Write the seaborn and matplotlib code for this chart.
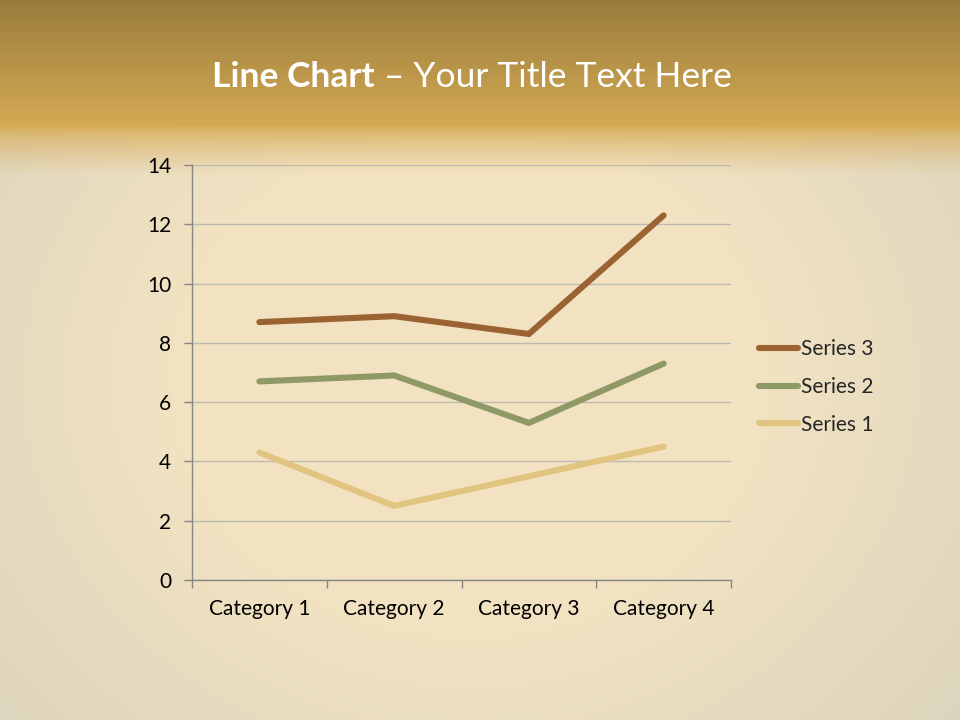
import numpy as np
import pandas as pd
import matplotlib
matplotlib.use("Agg")
import matplotlib.pyplot as plt
import seaborn as sns

# data (stacked line chart: each series drawn on top of the previous)
categories = ["Category 1", "Category 2", "Category 3", "Category 4"]
series_names = ["Series 1", "Series 2", "Series 3"]
series_1 = [4.3, 2.5, 3.5, 4.5]
series_2 = [2.4, 4.4, 1.8, 2.8]
series_3 = [2.0, 2.0, 3.0, 5.0]
y_ticks = [0, 2, 4, 6, 8, 10, 12, 14]
colors = {"Series 1": "#E1C47F", "Series 2": "#8F9966", "Series 3": "#9B6232"}

stacked = np.cumsum([series_1, series_2, series_3], axis=0)
df = pd.DataFrame({
    "cat": np.tile(np.arange(len(categories)), len(series_names)),
    "value": stacked.ravel(),
    "series": np.repeat(series_names, len(categories)),
})

sns.set_theme(style="white")
plt.rcParams["font.family"] = ["Lato", "DejaVu Sans"]

fig = plt.figure(figsize=(9.6, 7.2), dpi=100)

# -------- background: gold band on top, parchment below --------
H, W = 720, 960
yy, xx = np.mgrid[0:H, 0:W].astype(float)
dark = np.array([0.60, 0.49, 0.24])
gold = np.array([0.84, 0.67, 0.33])
cream = np.array([0.95, 0.89, 0.76])
edge = np.array([0.86, 0.83, 0.74])
r = np.sqrt(((xx - 470) / 560) ** 2 + ((yy - 380) / 480) ** 2)
v = np.clip((r - 0.5) / 0.65, 0, 1)[..., None]
body = cream * (1 - v) + edge * v
t_top = np.clip(yy / 130, 0, 1)[..., None]
band = dark * (1 - t_top) + gold * t_top
mix = np.clip((yy - 125) / 50, 0, 1)[..., None] ** 0.7
img = band * (1 - mix) + body * mix
bg = fig.add_axes([0, 0, 1, 1], zorder=-1)
bg.imshow(img, aspect="auto", extent=[0, 1, 0, 1], origin="upper")
bg.axis("off")

# -------- title --------
t1 = fig.text(0.0, 1 - 77 / 720, "Line Chart", color="white", fontsize=25.5,
              fontweight="bold", va="center", ha="left")
t2 = fig.text(0.0, 1 - 77 / 720, " \u2013 Your Title Text Here", color="white",
              fontsize=25.5, va="center", ha="left")
fig.canvas.draw()
rend = fig.canvas.get_renderer()
w1 = t1.get_window_extent(rend).width / fig.bbox.width
w2 = t2.get_window_extent(rend).width / fig.bbox.width
x0 = 472 / 960 - (w1 + w2) / 2
t1.set_x(x0)
t2.set_x(x0 + w1)

# -------- chart --------
ax = fig.add_axes([192 / 960, 1 - 580 / 720, (731 - 192) / 960, (580 - 165) / 720])
ax.patch.set_alpha(0)
sns.lineplot(data=df, x="cat", y="value", hue="series", palette=colors,
             linewidth=4.4, ax=ax, legend=False, sort=False)
for ln in ax.lines:
    ln.set_solid_capstyle("round")
    ln.set_solid_joinstyle("miter")

ax.set_xlim(-0.5, len(categories) - 0.5)
ax.set_ylim(0, 14)
ax.set_yticks(y_ticks)
ax.set_yticklabels([str(v) for v in y_ticks], fontsize=15, color="black")
ax.set_xticks(range(len(categories)))
ax.set_xticklabels(categories, fontsize=15, color="black")
ax.set_xticks(np.arange(-0.5, len(categories), 1), minor=True)
ax.tick_params(axis="x", which="major", length=0, pad=14)
ax.tick_params(axis="x", which="minor", bottom=True, length=6, color="#868686",
               width=1, direction="out")
ax.tick_params(axis="y", left=True, length=6, color="#868686", width=1,
               direction="out", pad=9)
ax.set_xlabel("")
ax.set_ylabel("")
ax.grid(axis="y", color="#BDBAB3", linewidth=1)
ax.set_axisbelow(True)
for side in ["top", "right"]:
    ax.spines[side].set_visible(False)
for side in ["left", "bottom"]:
    ax.spines[side].set_color("#868686")
    ax.spines[side].set_linewidth(1)

# legend, reversed order as in the reference
handles = [plt.Line2D([0], [0], color=colors[s], linewidth=4.4, solid_capstyle="round")
           for s in series_names[::-1]]
leg = fig.legend(handles, series_names[::-1], loc="center left",
                 bbox_to_anchor=(740 / 960, 1 - 387 / 720), frameon=False,
                 fontsize=15, handlelength=1.9, handletextpad=0.15,
                 labelspacing=0.85)

fig.savefig("out.png", dpi=100)
